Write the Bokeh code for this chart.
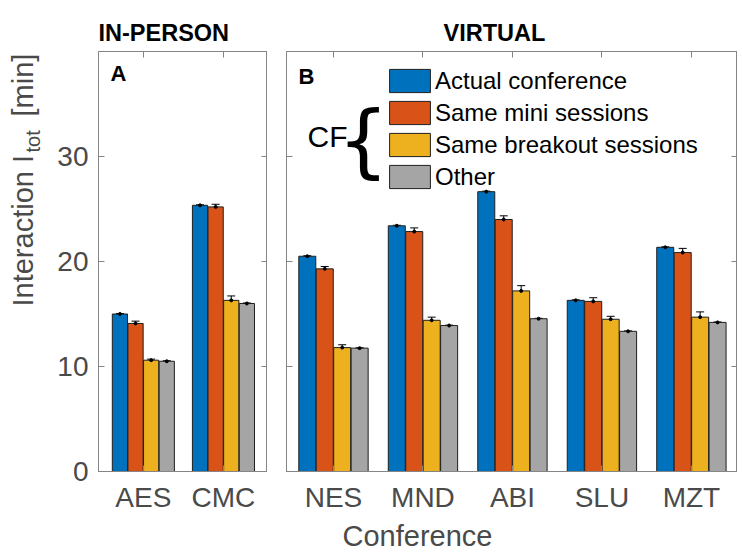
import numpy as np
from bokeh.plotting import figure
from bokeh.models import (Range1d, FixedTicker, LinearAxis, Label, Legend, LegendItem,
                          ColumnDataSource, Whisker, TeeHead, Title)
from bokeh.layouts import row
from bokeh.embed import file_html
from bokeh.resources import INLINE

# ---------------- data ----------------
series_names = ["Actual conference", "Same mini sessions", "Same breakout sessions", "Other"]

categories_a = ["AES", "CMC"]
actual_a = [15.0, 25.35]
mini_a = [14.1, 25.2]
breakout_a = [10.6, 16.3]
other_a = [10.5, 16.0]
actual_a_err = [0.05, 0.05]
mini_a_err = [0.22, 0.25]
breakout_a_err = [0.1, 0.42]
other_a_err = [0.05, 0.05]

categories_b = ["NES", "MND", "ABI", "SLU", "MZT"]
actual_b = [20.5, 23.4, 26.65, 16.3, 21.35]
mini_b = [19.3, 22.85, 24.0, 16.2, 20.85]
breakout_b = [11.8, 14.4, 17.2, 14.5, 14.7]
other_b = [11.75, 13.9, 14.55, 13.35, 14.2]
actual_b_err = [0.05, 0.05, 0.05, 0.05, 0.05]
mini_b_err = [0.22, 0.35, 0.35, 0.35, 0.4]
breakout_b_err = [0.27, 0.3, 0.5, 0.28, 0.5]
other_b_err = [0.04, 0.04, 0.04, 0.04, 0.04]

y_ticks = [0, 10, 20, 30]

# ---------------- style ----------------
colors = ["#0072BD", "#D95319", "#EDB120", "#A5A5A5"]
FONT = "Liberation Sans"
AXIS_COLOR = "#858585"
TEXT_COLOR = "#4a4a4a"
offsets = [-0.2925, -0.0975, 0.0975, 0.2925]
bar_w = 0.19
H = 550


def make_panel(cats, series, errs, xr, frame_w, mb_left, show_ylabels):
    n = len(cats)
    p = figure(x_range=Range1d(*xr), y_range=Range1d(0, 40),
               frame_width=frame_w, frame_height=420,
               min_border_left=mb_left, min_border_right=0,
               min_border_top=51, min_border_bottom=79,
               output_backend="svg", toolbar_location=None,
               background_fill_color="white", border_fill_color="white")
    p.grid.visible = False
    p.outline_line_color = AXIS_COLOR
    p.outline_line_width = 1

    renderers = []
    for i, (vals, er) in enumerate(zip(series, errs)):
        x = np.arange(1, n + 1) + offsets[i]
        vals = np.array(vals)
        er = np.array(er)
        src = ColumnDataSource(dict(x=x, top=vals, upper=vals + er, lower=vals - er))
        r = p.vbar(x="x", top="top", width=bar_w, source=src,
                   fill_color=colors[i], line_color="#1f1f1f", line_width=1)
        renderers.append(r)
        w = Whisker(source=src, base="x", upper="upper", lower="lower",
                    dimension="height", line_color="black", line_width=1,
                    upper_head=TeeHead(size=8, line_color="black", line_width=1),
                    lower_head=TeeHead(size=8, line_color="black", line_width=1))
        p.add_layout(w)
        p.scatter(x="x", y="top", source=src, size=3, color="black")

    xt = list(range(1, n + 1))
    xa = p.xaxis[0]
    xa.ticker = FixedTicker(ticks=xt)
    xa.major_label_overrides = {k: c for k, c in zip(xt, cats)}
    ya = p.yaxis[0]
    ya.ticker = FixedTicker(ticks=y_ticks)

    top_ax = LinearAxis(ticker=FixedTicker(ticks=xt))
    right_ax = LinearAxis(ticker=FixedTicker(ticks=y_ticks))
    p.add_layout(top_ax, "above")
    p.add_layout(right_ax, "right")

    for ax in [xa, ya, top_ax, right_ax]:
        ax.axis_line_color = AXIS_COLOR
        ax.major_tick_line_color = AXIS_COLOR
        ax.major_tick_in = 6
        ax.major_tick_out = 0
        ax.minor_tick_line_color = None
        ax.major_label_text_font = FONT
        ax.major_label_text_color = TEXT_COLOR
        ax.major_label_text_font_size = "28px"
    for ax in [top_ax, right_ax]:
        ax.major_label_text_font_size = "0px"
        ax.major_label_standoff = 0
    xa.major_label_standoff = 10
    ya.major_label_standoff = 10
    if not show_ylabels:
        ya.major_label_text_font_size = "0px"
        ya.major_label_standoff = 0
    return p, renderers


pa, _ = make_panel(categories_a, [actual_a, mini_a, breakout_a, other_a],
                   [actual_a_err, mini_a_err, breakout_a_err, other_a_err],
                   (0.44, 2.55), 169, 48, True)
pb, rb = make_panel(categories_b, [actual_b, mini_b, breakout_b, other_b],
                    [actual_b_err, mini_b_err, breakout_b_err, other_b_err],
                    (0.475, 5.515), 451, 19, False)

# helper strip that carries the y-axis label
py = figure(x_range=Range1d(0, 1), y_range=Range1d(0, 1), width=50, height=H,
            min_border=0, x_axis_location=None, y_axis_location=None,
            output_backend="svg", toolbar_location=None,
            background_fill_color="white", border_fill_color="white")
py.grid.visible = False
py.outline_line_color = None
py.add_layout(Label(x=22, y=H - 388, x_units="screen", y_units="screen", text="Interaction I",
                    angle=np.pi / 2, text_font=FONT, text_font_size="29px",
                    text_color=TEXT_COLOR, text_align="left", text_baseline="alphabetic"))
py.add_layout(Label(x=32, y=H - 234, x_units="screen", y_units="screen", text="tot",
                    angle=np.pi / 2, text_font=FONT, text_font_size="20px",
                    text_color=TEXT_COLOR, text_align="left", text_baseline="alphabetic"))
py.add_layout(Label(x=22, y=H - 198, x_units="screen", y_units="screen", text="[min]",
                    angle=np.pi / 2, text_font=FONT, text_font_size="29px",
                    text_color=TEXT_COLOR, text_align="left", text_baseline="alphabetic"))

# titles
pa.add_layout(Title(text="IN-PERSON", align="left", offset=0, standoff=12,
                    text_font=FONT, text_font_style="bold", text_font_size="23.5px",
                    text_color="black"), "above")
pb.add_layout(Title(text="VIRTUAL", align="left", offset=157, standoff=12,
                    text_font=FONT, text_font_style="bold", text_font_size="23.5px",
                    text_color="black"), "above")
# x axis label, centred on both panels
pb.add_layout(Title(text="Conference", align="left", offset=56, standoff=4,
                    text_font=FONT, text_font_style="normal", text_font_size="29px",
                    text_color=TEXT_COLOR), "below")

# panel letters
for p_, t_, yy in [(pa, "A", 398), (pb, "B", 395)]:
    p_.add_layout(Label(x=12, y=yy, x_units="screen", y_units="screen", text=t_,
                        text_font=FONT, text_font_style="bold", text_font_size="22px",
                        text_color="black", text_align="left", text_baseline="alphabetic"))

# CF brace
pb.add_layout(Label(x=21, y=335, x_units="screen", y_units="screen", text="CF",
                    text_font=FONT, text_font_size="30px", text_color="black",
                    text_align="left", text_baseline="alphabetic"))
pb.add_layout(Label(x=51, y=332, x_units="screen", y_units="screen", text="{",
                    text_font="DejaVu Sans", text_font_size="81px", text_color="black",
                    text_align="left", text_baseline="alphabetic"))

legend = Legend(items=[LegendItem(label=nm, renderers=[r]) for nm, r in zip(series_names, rb)],
                location=(98, 280), orientation="vertical",
                glyph_width=51, glyph_height=29, label_height=23,
                label_text_font=FONT, label_text_font_size="24px", label_text_color="black",
                label_standoff=-2, spacing=3, padding=0, margin=0,
                border_line_color=None, background_fill_alpha=0)
pb.add_layout(legend, "center")

layout = row(py, pa, pb)
open("out.html", "w").write(file_html(layout, INLINE))
